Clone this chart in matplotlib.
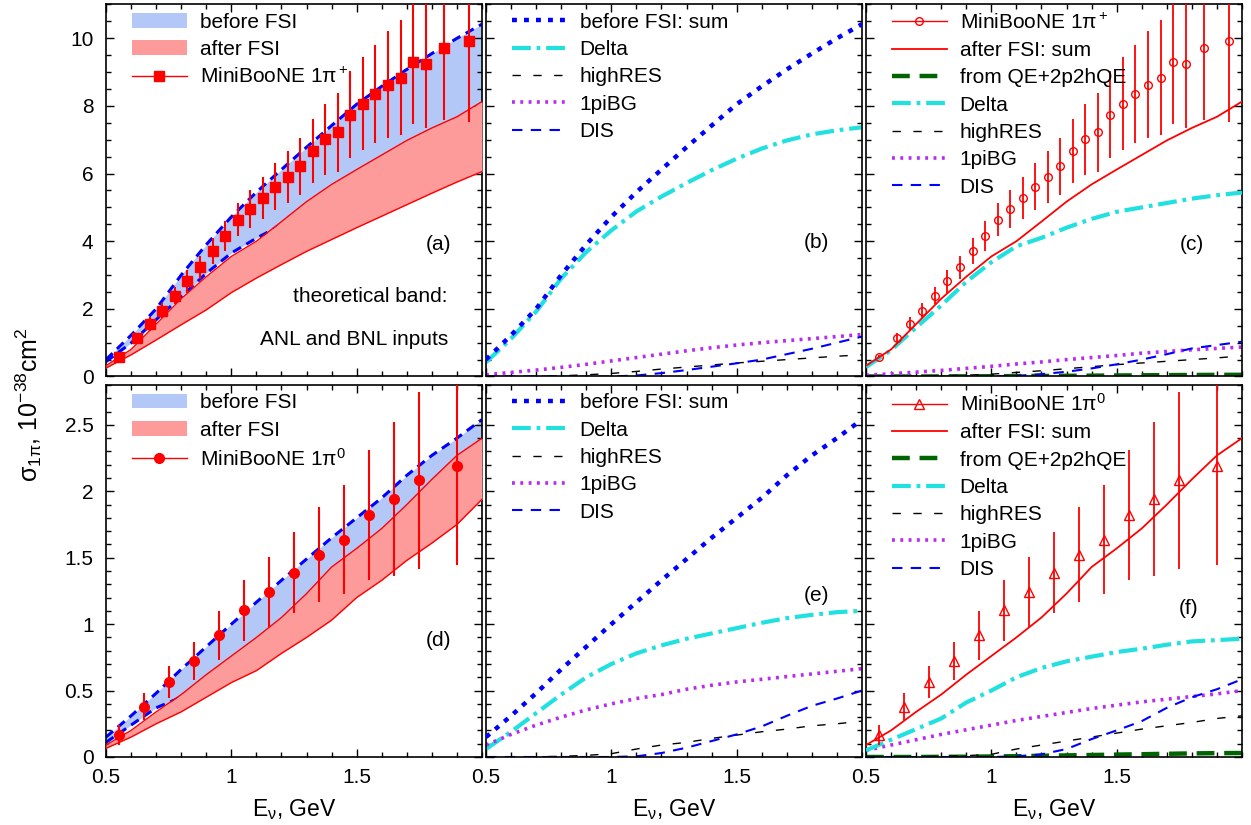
import matplotlib
matplotlib.use("Agg")
import matplotlib.pyplot as plt
from matplotlib.lines import Line2D
from matplotlib.patches import Patch
from matplotlib.ticker import MultipleLocator, FixedLocator, FuncFormatter

plt.rcParams['font.family'] = ['Liberation Sans', 'DejaVu Sans']
plt.rcParams['mathtext.fontset'] = 'custom'
plt.rcParams['mathtext.rm'] = 'Liberation Sans'
plt.rcParams['mathtext.it'] = 'Liberation Sans'
plt.rcParams['mathtext.sf'] = 'Liberation Sans'

# neutrino energy grid for the model curves, GeV
E = [0.5, 0.6, 0.7, 0.8, 0.9, 1.0, 1.1, 1.2, 1.3, 1.4, 1.5, 1.6, 1.7, 1.8, 1.9, 2.0]

# ---- 1pi+ (top row) ----
pip_before_hi = [0.50, 1.22, 2.00, 3.00, 3.90, 4.72, 5.45, 6.12, 6.78, 7.42, 8.05, 8.58, 9.08, 9.55, 10.00, 10.42]
pip_before_lo = [0.44, 0.99, 1.68, 2.36, 3.05, 3.65, 4.09, 4.48, 5.05, 5.55, 6.00, 6.42, 6.85, 7.22, 7.55, 8.00]
pip_after_hi = [0.32, 0.80, 1.55, 2.30, 2.95, 3.55, 4.00, 4.58, 5.17, 5.68, 6.12, 6.55, 6.98, 7.35, 7.68, 8.13]
pip_after_lo = [0.25, 0.64, 1.08, 1.53, 1.97, 2.48, 2.91, 3.31, 3.70, 4.05, 4.40, 4.74, 5.08, 5.42, 5.75, 6.06]

b_delta = [0.42, 1.12, 1.92, 2.90, 3.68, 4.32, 4.88, 5.32, 5.72, 6.10, 6.44, 6.74, 6.98, 7.16, 7.28, 7.37]
b_1pibg = [0.05, 0.12, 0.19, 0.27, 0.36, 0.46, 0.56, 0.66, 0.76, 0.85, 0.93, 1.00, 1.06, 1.12, 1.18, 1.24]
b_highres = [0, 0, 0.005, 0.02, 0.05, 0.09, 0.15, 0.22, 0.28, 0.34, 0.40, 0.45, 0.50, 0.55, 0.60, 0.64]
b_dis = [0, 0, 0, 0, 0, 0, 0.03, 0.10, 0.19, 0.29, 0.39, 0.50, 0.66, 0.82, 1.00, 1.18]

c_qe = [0, 0, 0, 0.002, 0.005, 0.008, 0.012, 0.016, 0.02, 0.025, 0.03, 0.035, 0.04, 0.045, 0.048, 0.05]
c_delta = [0.28, 0.78, 1.45, 2.10, 2.80, 3.38, 3.85, 4.10, 4.40, 4.66, 4.87, 5.00, 5.13, 5.26, 5.36, 5.44]
c_1pibg = [0.04, 0.08, 0.13, 0.18, 0.24, 0.30, 0.37, 0.43, 0.50, 0.56, 0.62, 0.69, 0.74, 0.79, 0.83, 0.87]
c_highres = [0, 0, 0.005, 0.02, 0.04, 0.07, 0.12, 0.17, 0.23, 0.29, 0.35, 0.40, 0.45, 0.50, 0.55, 0.61]
c_dis = [0, 0, 0, 0, 0, 0, 0.02, 0.07, 0.14, 0.24, 0.36, 0.50, 0.66, 0.83, 0.93, 1.03]

pip_E = [0.55, 0.625, 0.675, 0.725, 0.775, 0.825, 0.875, 0.925, 0.975, 1.025, 1.075, 1.125,
         1.175, 1.225, 1.275, 1.325, 1.375, 1.425, 1.475, 1.525, 1.575, 1.625, 1.675, 1.725,
         1.775, 1.85, 1.95]
pip_val = [0.59, 1.13, 1.56, 1.94, 2.39, 2.81, 3.23, 3.72, 4.15, 4.64, 4.96, 5.28, 5.61, 5.90,
           6.22, 6.66, 7.02, 7.22, 7.74, 8.07, 8.35, 8.63, 8.84, 9.29, 9.25, 9.70, 9.91]
pip_err = [0.05, 0.15, 0.20, 0.22, 0.26, 0.33, 0.34, 0.38, 0.44, 0.49, 0.56, 0.61, 0.70, 0.76,
           0.84, 0.94, 1.05, 1.16, 1.28, 1.38, 1.44, 1.58, 1.69, 1.82, 1.90, 2.12, 2.39]

# ---- 1pi0 (bottom row) ----
pi0_before_hi = [0.15, 0.31, 0.48, 0.66, 0.83, 1.00, 1.165, 1.33, 1.49, 1.65, 1.80, 1.95, 2.12, 2.27, 2.40, 2.54]
pi0_before_lo = [0.11, 0.24, 0.37, 0.45, 0.58, 0.72, 0.86, 1.01, 1.19, 1.39, 1.53, 1.68, 1.86, 2.05, 2.23, 2.36]
pi0_after_hi = [0.09, 0.20, 0.34, 0.47, 0.62, 0.76, 0.90, 1.05, 1.23, 1.43, 1.57, 1.72, 1.90, 2.09, 2.27, 2.40]
pi0_after_lo = [0.065, 0.15, 0.25, 0.34, 0.45, 0.56, 0.65, 0.78, 0.90, 1.03, 1.20, 1.33, 1.48, 1.61, 1.75, 1.94]

e_delta = [0.06, 0.19, 0.33, 0.47, 0.60, 0.70, 0.78, 0.84, 0.89, 0.93, 0.97, 1.01, 1.045, 1.07, 1.09, 1.10]
e_1pibg = [0.09, 0.17, 0.24, 0.30, 0.355, 0.40, 0.44, 0.47, 0.51, 0.54, 0.565, 0.585, 0.605, 0.625, 0.645, 0.665]
e_highres = [0, 0, 0.002, 0.005, 0.012, 0.025, 0.06, 0.09, 0.11, 0.14, 0.165, 0.19, 0.21, 0.235, 0.25, 0.27]
e_dis = [0, 0, 0, 0, 0, 0, 0.005, 0.03, 0.07, 0.12, 0.17, 0.23, 0.31, 0.385, 0.44, 0.50]

f_qe = [0, 0, 0, 0.001, 0.002, 0.004, 0.006, 0.009, 0.012, 0.015, 0.018, 0.021, 0.024, 0.027, 0.029, 0.03]
f_delta = [0.05, 0.13, 0.21, 0.29, 0.41, 0.50, 0.60, 0.67, 0.72, 0.755, 0.79, 0.815, 0.845, 0.87, 0.88, 0.89]
f_1pibg = [0.05, 0.09, 0.13, 0.17, 0.205, 0.24, 0.275, 0.305, 0.335, 0.365, 0.39, 0.415, 0.435, 0.455, 0.475, 0.50]
f_highres = [0, 0, 0.002, 0.005, 0.01, 0.02, 0.06, 0.09, 0.12, 0.15, 0.18, 0.21, 0.235, 0.26, 0.29, 0.31]
f_dis = [0, 0, 0, 0, 0, 0, 0.005, 0.02, 0.06, 0.135, 0.20, 0.27, 0.37, 0.45, 0.51, 0.585]

pi0_E = [0.55, 0.65, 0.75, 0.85, 0.95, 1.05, 1.15, 1.25, 1.35, 1.45, 1.55, 1.65, 1.75, 1.9]
pi0_val = [0.164, 0.378, 0.562, 0.723, 0.917, 1.103, 1.239, 1.387, 1.521, 1.637, 1.820, 1.939, 2.082, 2.193]
pi0_err = [0.075, 0.10, 0.12, 0.145, 0.185, 0.227, 0.264, 0.306, 0.357, 0.41, 0.487, 0.58, 0.667, 0.75]

# styles
BLUE_FILL = '#b4c8f8'
RED_FILL = '#fd9a9a'
CYAN = '#20e0e0'
VIOLET = '#b82cf0'
GREEN = '#006400'
FS = 15

sty_sum = dict(color='blue', lw=3.2, ls=(0, (1.1, 1.6)))
sty_delta = dict(color=CYAN, lw=3.0, ls=(0, (4.5, 1.4, 0.9, 1.4)))
sty_high = dict(color='black', lw=1.0, ls=(0, (6, 9)))
sty_bg = dict(color=VIOLET, lw=2.6, ls=(0, (0.8, 1.5)))
sty_dis = dict(color='blue', lw=1.5, ls=(0, (5, 4)))
sty_qe = dict(color=GREEN, lw=3.2, ls=(0, (4, 2.2)))
sty_after = dict(color='red', lw=1.3, ls='-')

leg_kw = dict(loc='upper left', bbox_to_anchor=(0.068, 0.978), frameon=False,
              fontsize=FS, borderpad=0, borderaxespad=0, handlelength=2.65,
              handletextpad=0.62, labelspacing=0.4)

fig = plt.figure(figsize=(12.51, 8.25), dpi=100)


def add_ax(left, top):
    return fig.add_axes([left / 1251, 1 - (top + 372) / 825, 376 / 1251, 372 / 825])


lefts = [106, 486, 866]
tops = [4.5, 385]
axes = [[add_ax(l, t) for l in lefts] for t in tops]

fmt = FuncFormatter(lambda v, p: '%g' % v)
for r, row in enumerate(axes):
    for c, ax in enumerate(row):
        ax.set_xlim(0.5, 2.0)
        if r == 0:
            ax.set_ylim(0, 11)
            ax.yaxis.set_major_locator(MultipleLocator(2))
            ax.yaxis.set_minor_locator(MultipleLocator(0.5))
        else:
            ax.set_ylim(0, 2.8)
            ax.yaxis.set_major_locator(MultipleLocator(0.5))
            ax.yaxis.set_minor_locator(MultipleLocator(0.1))
        ax.xaxis.set_major_locator(FixedLocator([0.5, 1.0, 1.5]))
        ax.xaxis.set_minor_locator(MultipleLocator(0.1))
        ax.xaxis.set_major_formatter(fmt)
        ax.yaxis.set_major_formatter(fmt)
        ax.tick_params(which='both', direction='in', top=True, right=True,
                       labelsize=FS, width=1.0)
        ax.tick_params(which='major', length=6)
        ax.tick_params(which='minor', length=3.5)
        ax.tick_params(axis='y', pad=9)
        ax.tick_params(axis='x', pad=8)
        if c > 0:
            ax.tick_params(labelleft=False)
        if r == 0:
            ax.tick_params(labelbottom=False)
        for s in ax.spines.values():
            s.set_linewidth(1.2)


def band_panel(ax, bhi, blo, ahi, alo, dE, dval, derr, marker, msize, dlabel):
    ax.fill_between(E, blo, bhi, color=BLUE_FILL, lw=0, zorder=1)
    ax.plot(E, bhi, color='blue', lw=2.2, ls=(0, (3, 2)), zorder=2)
    ax.plot(E, blo, color='blue', lw=2.2, ls=(0, (3, 2)), zorder=2)
    ax.fill_between(E, alo, ahi, color=RED_FILL, lw=0, zorder=3)
    ax.plot(E, ahi, color='red', lw=1.0, zorder=4)
    ax.plot(E, alo, color='red', lw=1.0, zorder=4)
    ax.errorbar(dE, dval, yerr=derr, fmt=marker, color='red', ms=msize, elinewidth=1.5,
                capsize=0, zorder=5)
    handles = [Patch(facecolor=BLUE_FILL, edgecolor='none'),
               Patch(facecolor=RED_FILL, edgecolor='none'),
               Line2D([], [], color='red', lw=1.0, marker=marker, ms=msize)]
    ax.legend(handles, ['before FSI', 'after FSI', dlabel], **leg_kw)


def comp_panel(ax, tot, delta, high, bg, dis):
    ax.plot(E, tot, **sty_sum, zorder=3)
    ax.plot(E, delta, **sty_delta, zorder=2)
    ax.plot(E, high, **sty_high, zorder=2)
    ax.plot(E, bg, **sty_bg, zorder=2)
    ax.plot(E, dis, **sty_dis, zorder=2)
    handles = [Line2D([], [], **sty_sum), Line2D([], [], **sty_delta),
               Line2D([], [], **sty_high), Line2D([], [], **sty_bg),
               Line2D([], [], **sty_dis)]
    ax.legend(handles, ['before FSI: sum', 'Delta', 'highRES', '1piBG', 'DIS'], **leg_kw)


def after_panel(ax, tot, qe, delta, high, bg, dis, dE, dval, derr, marker, msize, dlabel):
    ax.errorbar(dE, dval, yerr=derr, fmt=marker, color='red', mfc='none', mec='red',
                ms=msize, mew=1.0, elinewidth=1.3, capsize=0, zorder=5)
    ax.plot(E, tot, **sty_after, zorder=4)
    ax.plot(E, qe, **sty_qe, zorder=2)
    ax.plot(E, delta, **sty_delta, zorder=3)
    ax.plot(E, high, **sty_high, zorder=2)
    ax.plot(E, bg, **sty_bg, zorder=2)
    ax.plot(E, dis, **sty_dis, zorder=2)
    handles = [Line2D([], [], color='red', lw=1.0, marker=marker, mfc='none', ms=msize),
               Line2D([], [], **sty_after), Line2D([], [], **sty_qe),
               Line2D([], [], **sty_delta), Line2D([], [], **sty_high),
               Line2D([], [], **sty_bg), Line2D([], [], **sty_dis)]
    ax.legend(handles, [dlabel, 'after FSI: sum', 'from QE+2p2hQE', 'Delta', 'highRES',
                        '1piBG', 'DIS'], **leg_kw)


band_panel(axes[0][0], pip_before_hi, pip_before_lo, pip_after_hi, pip_after_lo,
           pip_E, pip_val, pip_err, 's', 6.5, 'MiniBooNE 1π$^+$')
comp_panel(axes[0][1], pip_before_hi, b_delta, b_highres, b_1pibg, b_dis)
after_panel(axes[0][2], pip_after_hi, c_qe, c_delta, c_highres, c_1pibg, c_dis,
            pip_E, pip_val, pip_err, 'o', 5.5, 'MiniBooNE 1π$^+$')

band_panel(axes[1][0], pi0_before_hi, pi0_before_lo, pi0_after_hi, pi0_after_lo,
           pi0_E, pi0_val, pi0_err, 'o', 7, 'MiniBooNE 1π$^0$')
comp_panel(axes[1][1], pi0_before_hi, e_delta, e_highres, e_1pibg, e_dis)
after_panel(axes[1][2], pi0_after_hi, f_qe, f_delta, f_highres, f_1pibg, f_dis,
            pi0_E, pi0_val, pi0_err, '^', 6.5, 'MiniBooNE 1π$^0$')

# panel tags
tags = [[('(a)', 0.883, 0.354), ('(b)', 0.878, 0.359), ('(c)', 0.867, 0.354)],
        [('(d)', 0.883, 0.314), ('(e)', 0.878, 0.435), ('(f)', 0.859, 0.399)]]
for r in range(2):
    for c in range(3):
        t, x, y = tags[r][c]
        axes[r][c].text(x, y, t, transform=axes[r][c].transAxes, fontsize=FS,
                        ha='center', va='center')

axes[0][0].text(0.909, 0.214, 'theoretical band:', transform=axes[0][0].transAxes,
                fontsize=FS, ha='right', va='center')
axes[0][0].text(0.909, 0.099, 'ANL and BNL inputs', transform=axes[0][0].transAxes,
                fontsize=FS, ha='right', va='center')

for l in lefts:
    fig.text((l + 188) / 1251, 1 - 816 / 825, r'E$_\nu$, GeV', fontsize=16.5,
             ha='center', va='baseline')

fig.text(29 / 1251, 1 - 405 / 825, r'$\sigma_{1\pi}$, 10$^{-38}$cm$^2$', fontsize=18,
         rotation=90, ha='center', va='center')

fig.savefig('out.png', dpi=100)
